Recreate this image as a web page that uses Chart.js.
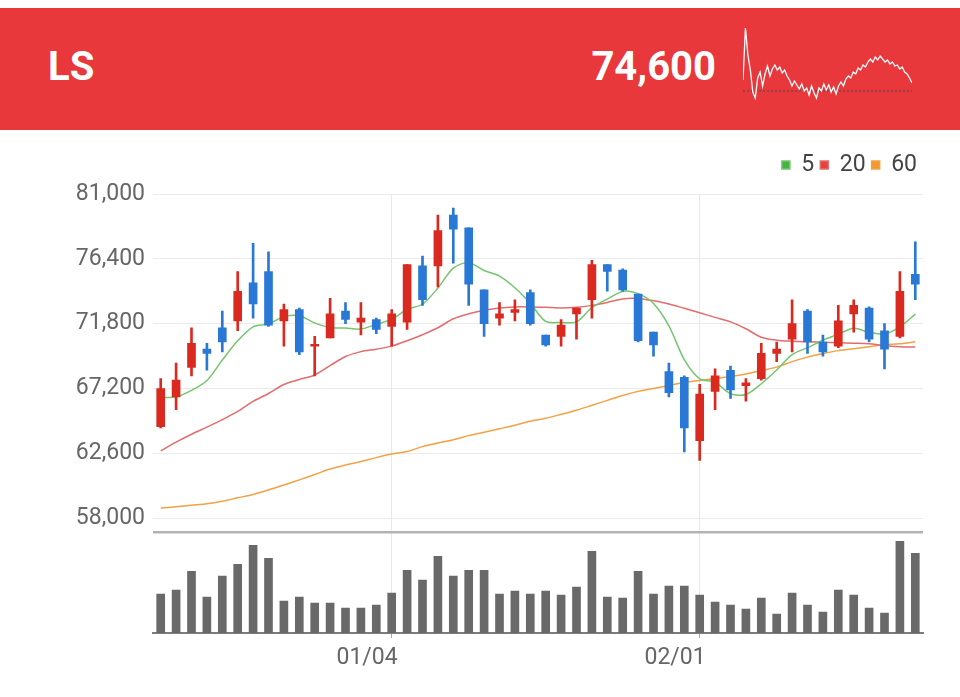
<!DOCTYPE html>
<html><head><meta charset="utf-8">
<script src="https://cdn.jsdelivr.net/npm/chart.js@4/dist/chart.umd.min.js"></script>
<style>
html,body{margin:0;padding:0;background:#fff;}
body{width:960px;height:697px;position:relative;overflow:hidden;font-family:Roboto,'Noto Sans',sans-serif;}
#banner{position:absolute;left:0;top:8px;width:960px;height:122px;background:#e8383b;}
.htxt{position:absolute;color:#fff;font-weight:700;font-size:40px;line-height:40px;top:39px;white-space:nowrap;}
#name{left:48px;}
#price{right:244px;}
#sparkWrap{position:absolute;left:743px;top:25px;width:169px;height:75px;}
#mainWrap{position:absolute;left:0;top:140px;width:960px;height:550px;}
</style>
</head><body>
<div id="banner"><div class="htxt" id="name">LS</div><div class="htxt" id="price">74,600</div></div>
<div id="sparkWrap"><canvas id="spark"></canvas></div>
<div id="mainWrap"><canvas id="main"></canvas></div>
<script>
const categories = ['12/09','12/10','12/11','12/14','12/15','12/16','12/17','12/18','12/21','12/22','12/23','12/24','12/28','12/29','12/30','01/04','01/05','01/06','01/07','01/08','01/11','01/12','01/13','01/14','01/15','01/18','01/19','01/20','01/21','01/22','01/25','01/26','01/27','01/28','01/29','02/01','02/02','02/03','02/04','02/05','02/08','02/09','02/10','02/15','02/16','02/17','02/18','02/19','02/22','02/23'];
const tickLabels = ['01/04','02/01'];
const priceTicks = [58000, 62600, 67200, 71800, 76400, 81000];

const opens  = [64500,66600,68700,70000,71500,72000,74700,75500,72000,72800,70200,70800,72700,71900,72100,71600,71900,75900,75900,79500,78600,74200,72200,72600,74000,71000,70900,72500,73500,76000,75600,73900,71200,68400,68000,63500,67000,68500,67400,67900,69700,70700,72700,70500,70200,72500,72900,71300,70900,75300];
const highs  = [67900,69000,71500,70400,72700,75500,77500,76900,73200,72900,70900,73600,73300,73300,72200,72800,76000,76600,79500,80000,78600,74200,73300,73500,74200,71000,72100,72900,76300,76000,75700,73900,71200,69000,68100,67500,68600,68800,67900,70400,70500,73500,72800,71000,73100,73500,73000,71800,75500,77600];
const lows   = [64400,65700,68100,68500,69800,71300,72200,71600,70200,69600,68100,70800,71800,71000,71100,70200,71400,73100,74400,76100,73100,70900,71700,72000,71700,70200,70200,70700,72200,74100,74100,70500,69500,66600,62700,62100,65700,66500,66300,67800,69100,69800,69700,69500,70100,71200,70500,68600,70800,73500];
const closes = [67200,67800,70400,69700,70500,74100,73200,71700,72800,69800,70300,72500,72100,72200,71400,72500,76000,73500,78400,78500,74600,71800,72500,72800,71800,70300,71700,72900,76000,75500,74200,70600,70300,66900,64400,66800,68100,67100,67600,69700,70000,71800,70500,69800,72000,73100,70700,70000,74100,74600];

const ma5  = [66570,66610,67070,67770,69220,70590,71580,71790,72290,72360,71860,71530,71490,71420,71760,72110,72820,73180,74330,75740,76130,75570,75180,74350,73240,71960,71890,71930,72940,73540,74090,73930,73240,71650,69250,67890,67650,66830,66780,67540,68510,69610,70100,70630,71050,71480,71190,71070,71580,72480];
const ma20 = [62780,63400,63960,64460,64990,65580,66290,66850,67490,67840,68160,68830,69470,69820,69990,70210,70590,71020,71510,72150,72500,72750,72920,72990,72990,72960,72920,72960,73100,73310,73560,73590,73420,73200,72890,72570,72250,71930,71440,70840,70630,70560,70520,70490,70450,70420,70380,70240,70170,70140];
const ma60 = [58720,58810,58920,59020,59200,59450,59690,60010,60360,60720,61100,61490,61780,62020,62300,62550,62730,63080,63330,63570,63860,64100,64350,64600,64880,65090,65370,65660,66010,66360,66710,67000,67210,67420,67630,67770,67910,68050,68230,68480,68720,69110,69430,69680,69890,70030,70170,70310,70380,70520];
const volumes = [195,215,310,180,285,345,440,375,160,180,150,150,125,125,140,200,315,265,385,285,315,315,195,210,195,210,190,230,410,180,175,310,195,235,235,190,155,140,120,175,95,200,140,105,215,190,125,100,460,400];

const sparkValues = [20,72,45,30,8,2,22,28,14,26,34,24,31,35,30,33,27,30,24,20,14,19,15,11,16,9,12,5,14,7,2,12,9,16,10,15,8,13,6,14,18,14,21,24,22,28,26,32,30,35,33,38,41,38,43,40,44,41,38,40,36,38,34,35,31,33,28,26,22,17];
const sparkPrevClose = 9;

const UP = '#da2a20', DOWN = '#2a78d6';
const candleColors = opens.map((o,i) => closes[i] >= o ? UP : DOWN);
const bodyData = opens.map((o,i) => [o, closes[i]]);
const wickData = lows.map((l,i) => [l, highs[i]]);
const dateIdx = tickLabels.map(t => categories.indexOf(t));
const isDate = i => dateIdx.includes(i);
const FONT = 'Roboto';

new Chart(document.getElementById('main'), {
  type: 'bar',
  data: {
    labels: categories,
    datasets: [
      {type:'bar', data: bodyData, yAxisID:'y', backgroundColor: candleColors, barThickness: 8, grouped:false, minBarLength: 2, borderWidth:0, order:1},
      {type:'bar', data: wickData, yAxisID:'y', backgroundColor: candleColors, barThickness: 2, grouped:false, borderWidth:0, order:2},
      {type:'line', label:'5', data: ma5, yAxisID:'y', borderColor:'#74c66e', backgroundColor:'#45b43f', borderWidth:1.5, pointRadius:0, tension:0.3, fill:false, order:3},
      {type:'line', label:'20', data: ma20, yAxisID:'y', borderColor:'#e46c6c', backgroundColor:'#e8413c', borderWidth:1.5, pointRadius:0, tension:0.3, fill:false, order:4},
      {type:'line', label:'60', data: ma60, yAxisID:'y', borderColor:'#f2a145', backgroundColor:'#f39a2c', borderWidth:1.5, pointRadius:0, tension:0.3, fill:false, order:5},
      {type:'bar', data: volumes, yAxisID:'yv', backgroundColor:'#696969', barThickness: 8, grouped:false, borderWidth:0, order:6}
    ]
  },
  options: {
    responsive:true, maintainAspectRatio:false, animation:false,
    layout:{padding:{top:7.5, right:37, left:0, bottom:0}},
    plugins:{
      tooltip:{enabled:false},
      legend:{position:'top', align:'end', labels:{boxWidth:8, boxHeight:8, padding:6, color:'#444', font:{family:FONT, size:23}, filter: it => !!it.text}}
    },
    scales:{
      x:{type:'category', offset:true,
         grid:{offset:false, tickLength:5, color: c => isDate(c.index) ? '#e8e8e8' : 'rgba(0,0,0,0)', tickColor: c => isDate(c.index) ? '#aaa' : 'rgba(0,0,0,0)'},
         border:{display:true, color:'#7b7b7b', width:2},
         ticks:{autoSkip:false, maxRotation:0, align:'end', labelOffset:6, padding:6, color:'#666', font:{family:FONT, size:23},
                callback: (v,i) => tickLabels.includes(categories[i]) ? categories[i] : ''},
         afterFit: s => { s.height = 57; }},
      xTop:{type:'category', position:'top', display:true, grid:{display:false}, border:{display:false}, ticks:{display:false}, afterFit: s => { s.height = 7.5; }},
      y:{type:'linear', position:'left', stack:'main', stackWeight:339.5, weight:2, min:57000, max:81000,
         afterBuildTicks: s => { s.ticks = [57000, ...priceTicks].map(v => ({value:v})); },
         grid:{drawTicks:false, color: c => (c.tick && c.tick.value === 57000) ? '#b3b3b3' : '#ebebeb', lineWidth: c => (c.tick && c.tick.value === 57000) ? 2.5 : 1},
         border:{display:false},
         ticks:{padding:8, color:'#666', font:{family:FONT, size:23}, callback: v => v === 57000 ? '' : Number(v).toLocaleString('en-US')},
         afterFit: s => { s.width = 153; }},
      yv:{type:'linear', position:'left', stack:'main', stackWeight:101, weight:1, min:0, max:505,
          grid:{display:false}, border:{display:false}, ticks:{display:false}, afterFit: s => { s.width = 153; }}
    }
  }
});

new Chart(document.getElementById('spark'), {
  type:'line',
  data:{datasets:[
    {data: sparkValues.map((v,i) => ({x:i, y:v})), borderColor:'#ffffff', borderWidth:1.3, pointRadius:0, tension:0},
    {data: [{x:0, y:sparkPrevClose}, {x:sparkValues.length-1, y:sparkPrevClose}], borderColor:'#4a4a4a', borderWidth:1, borderDash:[2,2], pointRadius:0}
  ]},
  options:{responsive:true, maintainAspectRatio:false, animation:false, layout:{padding:0},
    plugins:{legend:{display:false}, tooltip:{enabled:false}},
    scales:{x:{type:'linear', display:false, min:0, max:sparkValues.length-1}, y:{display:false, min:0, max:75}}}
});
</script>
</body></html>
